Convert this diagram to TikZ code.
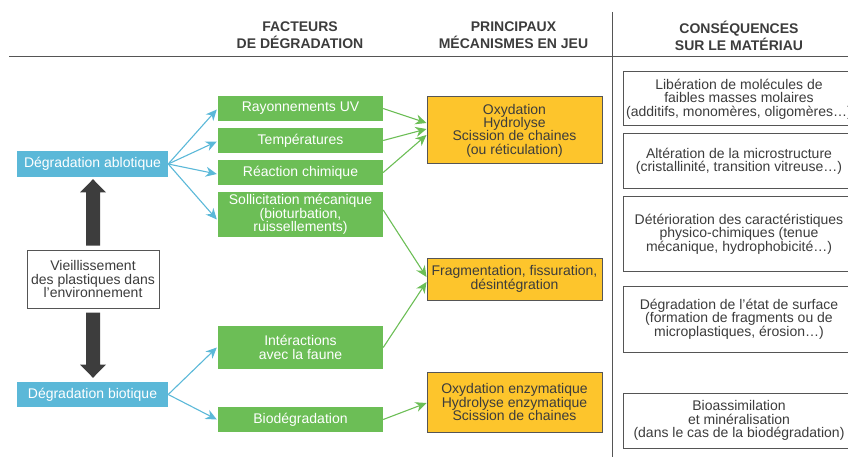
\documentclass[tikz,border=0pt]{standalone}
\usepackage{fontspec}
\setmainfont{Liberation Sans}
\usetikzlibrary{arrows.meta,calc}
\newcommand\myapos{\char"27\relax}
\definecolor{cblue}{HTML}{5BB8D8}
\definecolor{cgreen}{HTML}{6CBE56}
\definecolor{cyellow}{HTML}{FDC52C}
\definecolor{ctext}{HTML}{3C3C3C}
\definecolor{cborder}{HTML}{555555}
\definecolor{cdark}{HTML}{3D3D3D}
\begin{document}
\begin{tikzpicture}[x=1pt,y=-1pt,
  every node/.style={font=\fontsize{14}{13.3}\selectfont, align=center, inner sep=0pt},
  bluebox/.style={fill=cblue, text=white, minimum width=151pt, minimum height=26pt},
  greenbox/.style={fill=cgreen, text=white, minimum width=165pt, minimum height=25pt},
  yellowbox/.style={fill=cyellow, draw=cborder, line width=1pt, text=ctext, minimum width=175pt},
  whitebox/.style={fill=white, draw=cborder, line width=1pt, text=ctext, minimum width=232pt},
  header/.style={font=\fontsize{14}{17}\selectfont\bfseries, text=ctext},
  bluearrow/.style={draw=cblue, line width=1.1pt, -{Stealth[length=11pt,width=10pt,inset=3.5pt]}},
  greenarrow/.style={draw=cgreen, line width=1.1pt, -{Stealth[length=11pt,width=10pt,inset=3.5pt]}},
  bigarrow/.style={fill=cdark},
  rule/.style={draw=cborder, line width=1pt}
]
\useasboundingbox (0,0) rectangle (848,457);

% headers
\node[header] (h1) at (300,35.5) {FACTEURS\\DE DÉGRADATION};
\node[header] (h2) at (513.5,35.5) {PRINCIPAUX\\MÉCANISMES EN JEU};
\node[header] (h3) at (739,35.5) {CONSÉQUENCES\\SUR LE MATÉRIAU};
\coordinate (hl1) at (9,57);
\coordinate (hl2) at (848,57);
\coordinate (vl1) at (612,12);
\coordinate (vl2) at (612,457);
\draw[rule] (hl1) -- (hl2);
\draw[rule] (vl1) -- (vl2);

% left column
\node[bluebox] (abl) at (92.5,164) {Dégradation ablotique};
\node[bluebox, minimum height=25pt] (bio) at (92.5,394.5) {Dégradation biotique};
\node[draw=cborder, line width=1pt, fill=white, text=ctext, minimum width=132pt, minimum height=58pt] (vie) at (93,279) {Vieillissement\\des plastiques dans\\l\myapos environnement};

% factors
\node[greenbox] (uv) at (300.5,108.5) {Rayonnements UV};
\node[greenbox] (temp) at (300.5,140.5) {Températures};
\node[greenbox] (rea) at (300.5,172.5) {Réaction chimique};
\node[greenbox, minimum height=45pt] (sol) at (300.5,214.5) {Sollicitation mécanique\\(bioturbation,\\ruissellements)};
\node[greenbox, minimum height=43pt] (fau) at (300.5,347.5) {Intéractions\\avec la faune};
\node[greenbox] (biod) at (300.5,419.5) {Biodégradation};

% mechanisms
\node[yellowbox, minimum height=67pt] (ox) at (514.5,130.5) {Oxydation\\Hydrolyse\\Scission de chaines\\(ou réticulation)};
\node[yellowbox, minimum height=42pt] (frag) at (514.5,279) {Fragmentation, fissuration,\\désintégration};
\node[yellowbox, minimum height=60pt] (enz) at (514.5,402) {Oxydation enzymatique\\Hydrolyse enzymatique\\Scission de chaines};

% consequences
\node[whitebox, minimum height=54pt] (lib) at (739,99) {Libération de molécules de\\faibles masses molaires\\(additifs, monomères, oligomères…)};
\node[whitebox, minimum height=55pt] (alt) at (739,161.5) {Altération de la microstructure\\(cristallinité, transition vitreuse…)};
\node[whitebox, minimum height=74pt] (det) at (739,234) {Détérioration des caractéristiques\\physico-chimiques (tenue\\mécanique, hydrophobicité…)};
\node[whitebox, minimum height=66pt] (surf) at (739,319) {Dégradation de l\myapos état de surface\\(formation de fragments ou de\\microplastiques, érosion…)};
\node[whitebox, minimum height=55pt] (bioa) at (739,420.5) {Bioassimilation\\et minéralisation\\(dans le cas de la biodégradation)};

% big arrows (up to ablotique, down to biotique)
\fill[bigarrow] ($(vie.north)+(-7,-4)$) -- ($(vie.north)+(-7,-57)$) -- ($(vie.north)+(-13,-57)$)
  -- ($(abl.south)+(0.5,2)$) -- ($(vie.north)+(13,-57)$) -- ($(vie.north)+(7,-57)$)
  -- ($(vie.north)+(7,-4)$) -- cycle;
\fill[bigarrow] ($(vie.south)+(-7,4)$) -- ($(vie.south)+(-7,56)$) -- ($(vie.south)+(-13,56)$)
  -- ($(bio.north)+(0.5,-4)$) -- ($(vie.south)+(13,56)$) -- ($(vie.south)+(7,56)$)
  -- ($(vie.south)+(7,4)$) -- cycle;

% blue arrows
\draw[bluearrow] (abl.east) -- ($(uv.west)+(-1,1)$);
\draw[bluearrow] (abl.east) -- ($(temp.west)+(-1,1)$);
\draw[bluearrow] (abl.east) -- ($(rea.west)+(-1,1.5)$);
\draw[bluearrow] (abl.east) -- ($(sol.west)+(-1,5)$);
\draw[bluearrow] (bio.east) -- ($(fau.west)+(-1,0)$);
\draw[bluearrow] (bio.east) -- ($(biod.west)+(-1,0)$);

% green arrows
\draw[greenarrow] (uv.east) -- ($(ox.west)+(0,-7.5)$);
\draw[greenarrow] (temp.east) -- ($(ox.west)+(0,-1.5)$);
\draw[greenarrow] (rea.east) -- ($(ox.west)+(0,4.5)$);
\draw[greenarrow] ($(sol.east)+(0,-4.5)$) -- ($(frag.west)+(0,-2)$);
\draw[greenarrow] (fau.east) -- ($(frag.west)+(0,3)$);
\draw[greenarrow] (biod.east) -- ($(enz.west)+(0,1)$);
\end{tikzpicture}
\end{document}
